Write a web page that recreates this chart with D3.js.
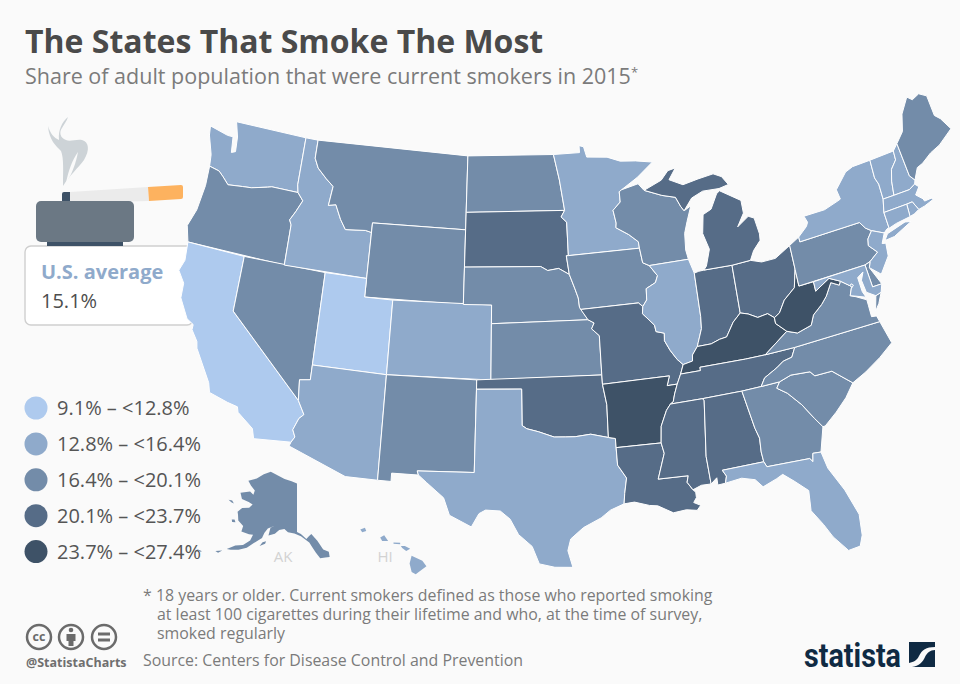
<!DOCTYPE html>
<html><head><meta charset="utf-8">
<script src="https://cdnjs.cloudflare.com/ajax/libs/d3/7.8.5/d3.min.js"></script>
<style>html,body{margin:0;padding:0;background:#fafafa}svg{display:block}text{font-family:"Open Sans",sans-serif}</style>
</head><body><svg id="c" width="960" height="684"></svg>
<script>
const titleText="The States That Smoke The Most";
const subtitleText="Share of adult population that were current smokers in 2015";
const averageLabel="U.S. average";
const averageValue="15.1%";
const legendLabels=["9.1% – <12.8%","12.8% – <16.4%","16.4% – <20.1%","20.1% – <23.7%","23.7% – <27.4%"];
const footnoteLines=["* 18 years or older. Current smokers defined as those who reported smoking","at least 100 cigarettes during their lifetime and who, at the time of survey,","smoked regularly"];
const sourceText="Source: Centers for Disease Control and Prevention";
const classColors=["#aecaee","#8faacb","#738ca9","#566c87","#3e5267"];
const class0=["CA","UT"];
const class1=["WA","ID","AZ","CO","TX","MN","IL","NY","VT","NH","MA","RI","CT","NJ","MD","DC","FL","HI"];
const class2=["OR","MT","WY","NV","NM","ND","NE","KS","IA","WI","PA","ME","VA","NC","SC","GA","AK","DE"];
const class3=["SD","MI","IN","OH","MO","OK","TN","MS","AL","LA"];
const class4=["AR","KY","WV"];
const lower48={
WA:[[[-124.7,48.4],[-123.2,48.15],[-122.75,48.15],[-122.6,47.3],[-122.3,47.4],[-122.4,48.2],[-122.75,49],[-117.03,49],[-117.04,46.4],[-116.92,45.99],[-118.98,46],[-119.3,45.93],[-120.5,45.7],[-121.2,45.65],[-122.3,45.55],[-122.8,45.9],[-123.2,46.15],[-124,46.27],[-124.1,46.9],[-124.6,47.9]]],
OR:[[[-124,46.27],[-123.2,46.15],[-122.8,45.9],[-122.3,45.55],[-121.2,45.65],[-120.5,45.7],[-119.3,45.93],[-118.98,46],[-116.92,45.99],[-116.46,45.6],[-116.85,44.95],[-117.2,44.45],[-117.03,44.2],[-117.03,42],[-124.21,42],[-124.55,42.85],[-124.15,43.8],[-123.95,45.2]]],
CA:[[[-124.21,42],[-120,42],[-120,39],[-114.63,35],[-114.14,34.3],[-114.43,34.05],[-114.72,33.4],[-114.52,33.03],[-114.72,32.72],[-117.12,32.53],[-117.3,33.05],[-118.4,33.75],[-118.5,34.03],[-119.2,34.15],[-120.47,34.45],[-120.65,34.95],[-121.9,36.6],[-122,36.95],[-122.5,37.5],[-122.5,37.78],[-123,38],[-123.75,39],[-123.8,39.8],[-124.35,40.4],[-124.1,41]]],
NV:[[[-120,42],[-114.04,42],[-114.04,36.2],[-114.75,36.1],[-114.63,35],[-120,39]]],
ID:[[[-117.03,49],[-116.05,49],[-116.05,48],[-115.7,47.5],[-114.95,47],[-114.35,46.65],[-114.5,45.6],[-113.95,45.7],[-113.45,44.95],[-113,44.45],[-111.5,44.55],[-111.05,44.48],[-111.05,42],[-117.03,42],[-117.03,44.2],[-117.2,44.45],[-116.85,44.95],[-116.46,45.6],[-116.92,45.99],[-117.04,46.4]]],
MT:[[[-116.05,49],[-104.05,49],[-104.05,45],[-111.05,45],[-111.05,44.48],[-111.5,44.55],[-113,44.45],[-113.45,44.95],[-113.95,45.7],[-114.5,45.6],[-114.35,46.65],[-114.95,47],[-115.7,47.5],[-116.05,48]]],
WY:[[[-111.05,45],[-104.05,45],[-104.05,41],[-111.05,41]]],
UT:[[[-114.04,42],[-111.05,42],[-111.05,41],[-109.05,41],[-109.05,37],[-114.04,37]]],
CO:[[[-109.05,41],[-102.05,41],[-102.05,37],[-109.05,37]]],
AZ:[[[-114.04,37],[-109.05,37],[-109.05,31.33],[-111.07,31.33],[-114.81,32.5],[-114.72,32.72],[-114.52,33.03],[-114.72,33.4],[-114.43,34.05],[-114.14,34.3],[-114.63,35],[-114.75,36.1],[-114.04,36.2]]],
NM:[[[-109.05,37],[-103,37],[-103.04,32],[-106.62,32],[-106.53,31.78],[-108.21,31.78],[-108.21,31.33],[-109.05,31.33]]],
ND:[[[-104.05,49],[-97.23,49],[-96.85,47.6],[-96.56,45.94],[-104.05,45.94]]],
SD:[[[-104.05,45.94],[-96.56,45.94],[-96.85,45.6],[-96.45,45.3],[-96.45,43.5],[-96.6,43.5],[-96.45,42.49],[-97.2,42.85],[-98,42.77],[-98.5,43],[-104.05,43]]],
NE:[[[-104.05,43],[-98.5,43],[-98,42.77],[-97.2,42.85],[-96.45,42.49],[-96.1,41.7],[-95.9,41.2],[-95.85,40.7],[-95.31,40],[-102.05,40],[-102.05,41],[-104.05,41]]],
KS:[[[-102.05,40],[-95.31,40],[-94.9,39.8],[-95.1,39.5],[-94.6,39.1],[-94.62,37],[-102.05,37]]],
OK:[[[-103,37],[-94.62,37],[-94.62,36.5],[-94.43,35.4],[-94.48,33.64],[-95.6,33.9],[-96.6,33.83],[-97.2,33.85],[-97.95,33.88],[-98.95,34.2],[-99.7,34.38],[-100,34.56],[-100,36.5],[-103,36.5]]],
TX:[[[-106.62,32],[-103.04,32],[-103,36.5],[-100,36.5],[-100,34.56],[-99.7,34.38],[-98.95,34.2],[-97.95,33.88],[-97.2,33.85],[-96.6,33.83],[-95.6,33.9],[-94.48,33.64],[-94.04,33.55],[-94.04,33.02],[-94.04,31.99],[-93.55,31.2],[-93.75,30.3],[-93.84,29.7],[-94.7,29.35],[-95.3,28.9],[-96.4,28.35],[-97.2,27.7],[-97.4,27],[-97.15,25.96],[-98.2,26.07],[-99.1,26.4],[-99.5,27.5],[-100.3,28.3],[-100.8,29.25],[-101.4,29.77],[-102.3,29.88],[-102.7,29.7],[-103.15,28.98],[-104.5,29.65],[-104.9,30.6],[-106,31.4],[-106.53,31.78]]],
MN:[[[-97.23,49],[-95.15,49],[-95.15,49.38],[-94.8,49.3],[-94.6,48.72],[-93,48.6],[-92,48.3],[-90.8,48.2],[-89.5,48],[-90.8,47.3],[-92.1,46.75],[-92.3,46.66],[-92.3,46.1],[-92.9,45.7],[-92.75,45],[-92.8,44.75],[-91.9,44.3],[-91.25,43.85],[-91.22,43.5],[-96.45,43.5],[-96.45,45.3],[-96.85,45.6],[-96.56,45.94],[-96.85,47.6]]],
IA:[[[-96.45,43.5],[-91.22,43.5],[-91.1,42.7],[-90.65,42.5],[-90.15,41.9],[-90.35,41.55],[-91.05,41.3],[-91.1,40.7],[-91.42,40.38],[-91.7,40.6],[-95.77,40.58],[-95.85,40.7],[-95.9,41.2],[-96.1,41.7],[-96.45,42.49],[-96.6,43.5]]],
MO:[[[-95.77,40.58],[-91.7,40.6],[-91.42,40.38],[-91.5,40],[-90.75,39.3],[-90.7,38.95],[-90.15,38.8],[-90.2,38.4],[-89.9,37.85],[-89.5,37.3],[-89.15,36.98],[-89.4,36.5],[-89.7,36],[-90.37,36],[-90.15,36.5],[-94.62,36.5],[-94.62,37],[-94.6,39.1],[-95.1,39.5],[-94.9,39.8],[-95.31,40]]],
AR:[[[-94.62,36.5],[-90.15,36.5],[-90.37,36],[-89.7,36],[-89.95,35.5],[-90.1,35.1],[-90.3,35],[-90.6,34.7],[-91.05,33.9],[-91.17,33],[-94.04,33.02],[-94.04,33.55],[-94.48,33.64],[-94.43,35.4]]],
LA:[[[-94.04,33.02],[-91.17,33],[-91.05,32.4],[-91.6,31],[-89.73,31],[-89.85,30.65],[-89.55,30.2],[-89.4,30.05],[-89.4,29.75],[-89.6,29.5],[-89.2,29.3],[-89.45,29.05],[-90.1,29.15],[-90.9,29.05],[-91.8,29.5],[-92.3,29.55],[-93.2,29.78],[-93.84,29.7],[-93.75,30.3],[-93.55,31.2],[-94.04,31.99]]],
WI:[[[-92.1,46.75],[-90.8,46.95],[-90.4,46.55],[-89.1,46.13],[-88.1,45.9],[-87.8,45.35],[-87.6,45.1],[-87.05,45.3],[-87.5,44.5],[-87.8,43.9],[-87.9,43],[-87.8,42.49],[-90.65,42.5],[-91.1,42.7],[-91.22,43.5],[-91.25,43.85],[-91.9,44.3],[-92.8,44.75],[-92.75,45],[-92.9,45.7],[-92.3,46.1],[-92.3,46.66]]],
IL:[[[-90.65,42.5],[-87.8,42.49],[-87.53,41.7],[-87.53,39.35],[-87.6,38.7],[-87.95,38],[-88.05,37.8],[-88.45,37.4],[-88.5,37.08],[-89.15,36.98],[-89.5,37.3],[-89.9,37.85],[-90.2,38.4],[-90.15,38.8],[-90.7,38.95],[-90.75,39.3],[-91.5,40],[-91.42,40.38],[-91.1,40.7],[-91.05,41.3],[-90.35,41.55],[-90.15,41.9]]],
IN:[[[-87.53,41.7],[-87.2,41.75],[-86.82,41.76],[-84.8,41.7],[-84.82,39.1],[-85.4,38.7],[-86,38],[-86.5,37.95],[-87.1,37.8],[-88.05,37.8],[-87.95,38],[-87.6,38.7],[-87.53,39.35]]],
OH:[[[-84.8,41.7],[-83.45,41.73],[-82.7,41.5],[-81.7,41.5],[-80.52,41.97],[-80.52,40.64],[-80.85,39.7],[-81.7,39.2],[-82.2,38.6],[-82.6,38.42],[-83,38.72],[-83.7,38.65],[-84.3,38.95],[-84.82,39.1]]],
KY:[[[-84.82,39.1],[-84.3,38.95],[-83.7,38.65],[-83,38.72],[-82.6,38.42],[-82.6,38.1],[-81.97,37.54],[-83.68,36.6],[-85,36.62],[-88.07,36.68],[-88.07,36.5],[-89.4,36.5],[-89.15,36.98],[-88.5,37.08],[-88.45,37.4],[-88.05,37.8],[-87.1,37.8],[-86.5,37.95],[-86,38],[-85.4,38.7]]],
TN:[[[-89.7,36],[-89.4,36.5],[-88.07,36.5],[-88.07,36.68],[-85,36.62],[-83.68,36.6],[-81.68,36.59],[-82,36.12],[-82.6,36.03],[-83.1,35.77],[-84,35.4],[-84.32,34.99],[-85.6,34.98],[-88.2,35],[-90.3,35],[-90.1,35.1],[-89.95,35.5]]],
MS:[[[-90.3,35],[-88.2,35],[-88.1,34.9],[-88.47,31.9],[-88.4,30.37],[-89,30.38],[-89.55,30.2],[-89.85,30.65],[-89.73,31],[-91.6,31],[-91.05,32.4],[-91.17,33],[-91.05,33.9],[-90.6,34.7]]],
AL:[[[-88.2,35],[-85.6,34.98],[-85.18,32.87],[-85,32.3],[-85.05,31.55],[-85,31],[-87.6,31],[-87.4,30.65],[-87.52,30.28],[-88,30.25],[-88,30.65],[-88.4,30.37],[-88.47,31.9],[-88.1,34.9]]],
GA:[[[-85.6,34.98],[-84.32,34.99],[-83.1,35],[-83.35,34.7],[-82.75,34.3],[-82,33.5],[-81.4,32.6],[-81,32.05],[-81.45,30.75],[-81.95,30.8],[-82.05,30.36],[-82.2,30.57],[-84.86,30.7],[-85,31],[-85.05,31.55],[-85,32.3],[-85.18,32.87]]],
FL:[[[-87.6,31],[-85,31],[-84.86,30.7],[-82.2,30.57],[-82.05,30.36],[-81.95,30.8],[-81.45,30.75],[-81.25,29.8],[-80.55,28.4],[-80.05,26.9],[-80.15,25.75],[-80.4,25.2],[-81.1,25.15],[-81.8,26.1],[-82.2,26.9],[-82.75,27.8],[-82.65,28.9],[-83.4,29.6],[-84,30.1],[-84.4,29.95],[-85.3,29.68],[-85.7,30.15],[-86.5,30.38],[-87.52,30.28],[-87.4,30.65]]],
SC:[[[-83.1,35],[-82.3,35.2],[-81.05,35.1],[-80.8,34.82],[-79.67,34.8],[-78.55,33.86],[-79.2,33.2],[-80,32.6],[-80.85,32.05],[-81,32.05],[-81.4,32.6],[-82,33.5],[-82.75,34.3],[-83.35,34.7]]],
NC:[[[-84.32,34.99],[-84,35.4],[-83.1,35.77],[-82.6,36.03],[-82,36.12],[-81.68,36.59],[-75.87,36.55],[-75.5,35.25],[-76.5,34.7],[-77.6,34.2],[-78.55,33.86],[-79.67,34.8],[-80.8,34.82],[-81.05,35.1],[-82.3,35.2],[-83.1,35]]],
VA:[[[-83.68,36.6],[-81.97,37.54],[-81.3,37.3],[-80.3,37.5],[-80,38],[-79.3,38.42],[-78.87,38.77],[-78.35,39.4],[-77.83,39.13],[-77.7,39.32],[-77.05,38.85],[-77.3,38.4],[-76.95,38.25],[-76.3,37.9],[-76.3,37.6],[-76.3,36.95],[-75.97,36.9],[-75.87,36.55],[-81.68,36.59]],[[-75.95,37.15],[-75.65,37.95],[-75.25,38.03],[-75.6,37.5]]],
WV:[[[-82.6,38.42],[-82.2,38.6],[-81.7,39.2],[-80.85,39.7],[-80.52,40.64],[-80.52,39.72],[-79.48,39.72],[-79.48,39.2],[-78.4,39.65],[-77.7,39.32],[-77.83,39.13],[-78.35,39.4],[-78.87,38.77],[-79.3,38.42],[-80,38],[-80.3,37.5],[-81.3,37.3],[-81.97,37.54],[-82.6,38.1]]],
PA:[[[-80.52,41.97],[-79.76,42.27],[-79.76,42],[-75.35,42],[-75.05,41.6],[-74.7,41.36],[-75.1,41],[-75.2,40.65],[-74.72,40.15],[-75.4,39.8],[-75.79,39.72],[-80.52,39.72],[-80.52,40.64]]],
NY:[[[-79.76,42.27],[-79.05,42.7],[-78.9,42.9],[-79.05,43.27],[-77.5,43.27],[-76.4,43.5],[-76.2,43.55],[-76.3,44.1],[-75.3,44.85],[-74.7,45],[-73.34,45],[-73.4,44],[-73.25,43.6],[-73.27,42.75],[-73.5,42.05],[-73.48,41.2],[-73.73,41.1],[-73.9,41],[-74.7,41.36],[-75.05,41.6],[-75.35,42],[-79.76,42]],[[-74,40.6],[-73.7,40.9],[-72.3,41.15],[-71.9,41.05],[-73.3,40.62]]],
VT:[[[-73.34,45],[-71.5,45],[-71.55,44.5],[-72.05,44.1],[-72.3,43.5],[-72.46,42.73],[-73.27,42.75],[-73.25,43.6],[-73.4,44]]],
NH:[[[-71.5,45],[-71.08,45.3],[-70.98,43.4],[-70.7,43.07],[-70.82,42.87],[-71.3,42.7],[-72.46,42.73],[-72.3,43.5],[-72.05,44.1],[-71.55,44.5]]],
ME:[[[-71.08,45.3],[-70.4,45.8],[-70,46.7],[-69.23,47.46],[-68.9,47.2],[-68.3,47.36],[-67.79,47.07],[-67.78,45.9],[-67.45,45.6],[-67,44.85],[-68.2,44.3],[-69,44.1],[-69.8,43.75],[-70.25,43.65],[-70.7,43.07],[-70.98,43.4]]],
MA:[[[-73.5,42.05],[-73.27,42.75],[-72.46,42.73],[-71.3,42.7],[-70.82,42.87],[-70.6,42.65],[-71,42.3],[-70.6,41.95],[-70.55,41.8],[-70,41.8],[-70.2,42.07],[-69.95,41.7],[-70.65,41.55],[-71.12,41.5],[-71.38,42.02],[-71.8,42.02]]],
RI:[[[-71.8,42.02],[-71.38,42.02],[-71.12,41.5],[-71.5,41.37],[-71.85,41.32]]],
CT:[[[-73.5,42.05],[-71.8,42.02],[-71.85,41.32],[-72.9,41.25],[-73.73,41.1],[-73.48,41.2]]],
NJ:[[[-74.7,41.36],[-73.9,41],[-74.25,40.5],[-74,40.45],[-74.1,39.75],[-74.9,38.95],[-75.55,39.5],[-75.4,39.8],[-74.72,40.15],[-75.2,40.65],[-75.1,41]]],
DE:[[[-75.79,39.72],[-75.4,39.8],[-75.55,39.5],[-75.05,38.45],[-75.7,38.46]]],
MD:[[[-79.48,39.72],[-75.79,39.72],[-75.7,38.46],[-75.05,38.45],[-75.25,38.03],[-75.65,37.95],[-76.2,38.3],[-76.3,39],[-76.05,39.4],[-76.5,39.2],[-76.45,38.4],[-76.3,38.05],[-77,38.3],[-77.3,38.4],[-77.05,38.85],[-77.7,39.32],[-78.4,39.65],[-79.48,39.2]]],
DC:[[[-77.12,38.93],[-77.04,39],[-76.91,38.89],[-77.04,38.79]]],
MI:[[[-86.82,41.76],[-84.8,41.7],[-83.45,41.73],[-83.1,42.2],[-82.5,42.65],[-82.45,43],[-82.6,43.9],[-83,44.07],[-83.9,43.65],[-83.3,44.3],[-83.3,45],[-84.75,45.78],[-85,45.65],[-85.6,44.9],[-86.25,44.7],[-86.5,43.7],[-86.2,42.8],[-86.6,41.95]],[[-90.4,46.55],[-89,46.95],[-88.4,47.4],[-87.8,47.47],[-88.4,46.9],[-87.4,46.5],[-86.2,46.65],[-85,46.75],[-84.4,46.5],[-84,46],[-84.75,45.9],[-86,45.95],[-86.9,45.7],[-87.6,45.1],[-87.8,45.35],[-88.1,45.9],[-89.1,46.13]]]
};
const alaska={AK:[[[-141,69.65],[-141,60.3],[-139.5,59.9],[-137.5,58.9],[-136.5,59.4],[-135.5,59.8],[-133.5,58.4],[-131.8,56.6],[-130,56],[-130,55],[-131.5,55],[-133.2,55],[-134.5,56.2],[-135.5,57.2],[-136.5,58.2],[-139.5,59.5],[-142,60],[-144.5,60.2],[-146,60.8],[-148,60.5],[-149.5,59.7],[-151.8,59.2],[-151.5,60.7],[-150,61.2],[-152.5,60.5],[-153.5,59.5],[-154,58.5],[-156.5,57.2],[-158.5,56],[-161,55.2],[-163.5,54.7],[-164.8,54.6],[-162.5,55.8],[-160,56.3],[-158,57.5],[-157.5,58.7],[-159,58.6],[-162,58.7],[-162,59.8],[-164.5,60.5],[-165.4,61.5],[-166,62],[-164.8,63],[-162,63.5],[-161,64.3],[-163,64.5],[-166.3,64.6],[-168,65.6],[-164,66.5],[-162,66.1],[-162,67],[-164.5,67.6],[-166.7,68.3],[-163,69.3],[-160,70.5],[-156.5,71.35],[-152,70.9],[-148,70.4],[-144,70.05]],
[[-154.3,56.9],[-152.5,57.5],[-152.3,58],[-153.5,57.7]],[[-171.5,63.4],[-170,63.6],[-168.8,63.2],[-170,63.2]],[[-167,60.2],[-166,60.4],[-165.3,60],[-166.5,59.8]],[[-172,52.3],[-174,52.2],[-172,52.1]],[[-168,53.4],[-166,54],[-167,53.3]]]};
const hawaii={HI:[[[-159.75,22.1],[-159.4,22.23],[-159.3,22],[-159.6,21.9]],[[-158.25,21.55],[-157.95,21.7],[-157.65,21.3],[-158.1,21.3]],[[-157.25,21.2],[-156.75,21.17],[-156.75,21.07],[-157.25,21.1]],[[-156.7,20.95],[-156.4,20.95],[-156,20.75],[-156.3,20.6],[-156.6,20.8]],[[-155.9,20.25],[-155.1,19.9],[-154.8,19.5],[-155.6,18.95],[-155.9,19.1],[-156.05,19.7]]]};

const svg=d3.select("#c");
svg.append("rect").attr("width",960).attr("height",684).attr("fill","#fafafa");
const classOf={};[class0,class1,class2,class3,class4].forEach((a,i)=>a.forEach(s=>classOf[s]=i));

function anchored(p,ll,xy){p.translate([0,0]);const q=p(ll);return p.translate([xy[0]-q[0],xy[1]-q[1]]);}
const conicMain=anchored(d3.geoConicEqualArea().parallels([29.5,45.5]).rotate([98,0]).scale(1064),[-114.04,37],[309,365]);
/* the reference's map is slightly skewed towards the north-east relative to a plain conic */
function projMain(ll){
  const [x,y]=conicMain(ll);
  const t=Math.max(0,x-300)/610;
  return [x+0.034*(y-270)+10*t,
          y-39*t*t-16*Math.exp(-Math.pow((x-560)/90,2))*Math.max(0,y-450)/140];
}
const projAK=anchored(d3.geoConicEqualArea().parallels([55,65]).rotate([141,0]).scale(298),[-141,60.3],[297,532]);
const projHI=anchored(d3.geoConicEqualArea().parallels([8,18]).rotate([157,0]).scale(815),[-155.5,19.6],[417,565]);
const ring=d3.line().curve(d3.curveLinearClosed);

const box=svg.append("g");
box.append("rect").attr("x",25).attr("y",246).attr("width",168).attr("height",79).attr("rx",6).attr("fill","#fff").attr("stroke","#cfcfcf").attr("stroke-width",1.4);
box.append("text").attr("x",41).attr("y",279).attr("font-size",20).attr("font-weight",700).attr("fill","#8faacb").text(averageLabel);
box.append("text").attr("x",41).attr("y",308).attr("font-size",20).attr("fill","#4d4d4d").text(averageValue);
const ash=svg.append("g");
ash.append("path").attr("fill","#cdd3d7").attr("d","M48,126C49,140 56,146 61,151C64,158 63,172 63,186C70,175 78,168 84,160C90,150 89,142 82,140C76,139 70,142 66,140C60,138 59,132 62,128C64,124 67,121 68,117C62,122 58,130 59,140C54,138 50,133 48,126Z");
ash.append("path").attr("fill","#fafafa").attr("d","M66,183C68,172 72,160 78,152C76,163 72,174 66,183Z");
ash.append("path").attr("fill","#ebebeb").attr("d","M70,192L148,187L149,201L70,203Z");
ash.append("path").attr("fill","#fdb25f").attr("d","M148,187L181,185Q183,185 183,187L183,197Q183,199 181,199L149,201Z");
ash.append("path").attr("fill","#3e5267").attr("d","M62,194Q62,192 64,192L70,192L70,202L62,202Z");
ash.append("rect").attr("x",47).attr("y",241).attr("width",76).attr("height",5).attr("fill","#3e5267");
ash.append("rect").attr("x",36).attr("y",201).attr("width",98).attr("height",41).attr("rx",5).attr("fill","#6b7884");

svg.append("g").selectAll("path").data(Object.entries(lower48)).join("path")
  .attr("d",([k,polys])=>polys.map(r=>ring(r.map(projMain))).join(""))
  .attr("fill",([k])=>classColors[classOf[k]])
  .attr("stroke","#fff").attr("stroke-width",1).attr("stroke-linejoin","round");
svg.append("g").selectAll("path").data(Object.entries(alaska)).join("path").attr("d",([k,p])=>p.map(r=>ring(r.map(projAK))).join("")).attr("fill",classColors[classOf.AK]);
svg.append("g").selectAll("path").data(Object.entries(hawaii)).join("path").attr("d",([k,p])=>p.map(r=>ring(r.map(projHI))).join("")).attr("fill",classColors[classOf.HI]);

svg.append("text").attr("x",283).attr("y",562).attr("text-anchor","middle").attr("font-size",15).attr("fill","#d2d2d2").text("AK");
svg.append("text").attr("x",385).attr("y",562).attr("text-anchor","middle").attr("font-size",15).attr("fill","#d2d2d2").text("HI");

svg.append("text").attr("x",25).attr("y",53).attr("font-size",32).attr("font-weight",700).attr("fill","#4a4a4a").text(titleText);
const sub=svg.append("text").attr("x",25).attr("y",84).attr("font-size",21.5).attr("fill","#7b7b7b").text(subtitleText);
sub.append("tspan").attr("font-size",13).attr("dy",-7).text("*");

const leg=svg.append("g").selectAll("g").data(legendLabels).join("g").attr("transform",(d,i)=>`translate(36,${408+i*35.9})`);
leg.append("circle").attr("r",11.5).attr("fill",(d,i)=>classColors[i]);
leg.append("text").attr("x",21).attr("y",7).attr("font-size",20).attr("fill","#555").text(d=>d);

svg.append("text").attr("font-size",15.9).attr("fill","#7b7b7b").selectAll("tspan").data(footnoteLines).join("tspan").attr("x",(d,i)=>i?157:143).attr("y",(d,i)=>601+i*19).text(d=>d);
svg.append("text").attr("x",143).attr("y",666).attr("font-size",15.9).attr("fill","#7b7b7b").text(sourceText);
svg.append("text").attr("x",26).attr("y",667).attr("font-size",12.5).attr("font-weight",700).attr("fill","#6f6f6f").text("@StatistaCharts");

const cc=svg.append("g").attr("stroke","#6b6b6b").attr("fill","none").attr("stroke-width",2.5);
[39,71,104].forEach(x=>cc.append("circle").attr("cx",x).attr("cy",637).attr("r",12));
svg.append("text").attr("x",39).attr("y",641).attr("text-anchor","middle").attr("font-size",12.5).attr("font-weight",700).attr("fill","#6b6b6b").text("cc");
svg.append("circle").attr("cx",71).attr("cy",630).attr("r",2.3).attr("fill","#6b6b6b");
svg.append("path").attr("fill","#6b6b6b").attr("d","M66.5,634H75.5V641H73.5V646H68.5V641H66.5Z");
svg.append("path").attr("fill","#6b6b6b").attr("d","M98,632.5H110V635.5H98ZM98,638.5H110V641.5H98Z");

svg.append("text").attr("x",804).attr("y",667).attr("font-size",33).attr("font-weight",700).attr("fill","#0f2a43").attr("textLength",97).attr("lengthAdjust","spacingAndGlyphs").style("font-family","Roboto").text("statista");
svg.append("path").attr("fill","#0f2a43").attr("d","M909,642H935V647C926,647 922,650 919,656C917,660 914,662 909,663ZM935,650V667H912C919,666 923,662 925,657C927,653 930,650 935,650Z");
</script></body></html>
